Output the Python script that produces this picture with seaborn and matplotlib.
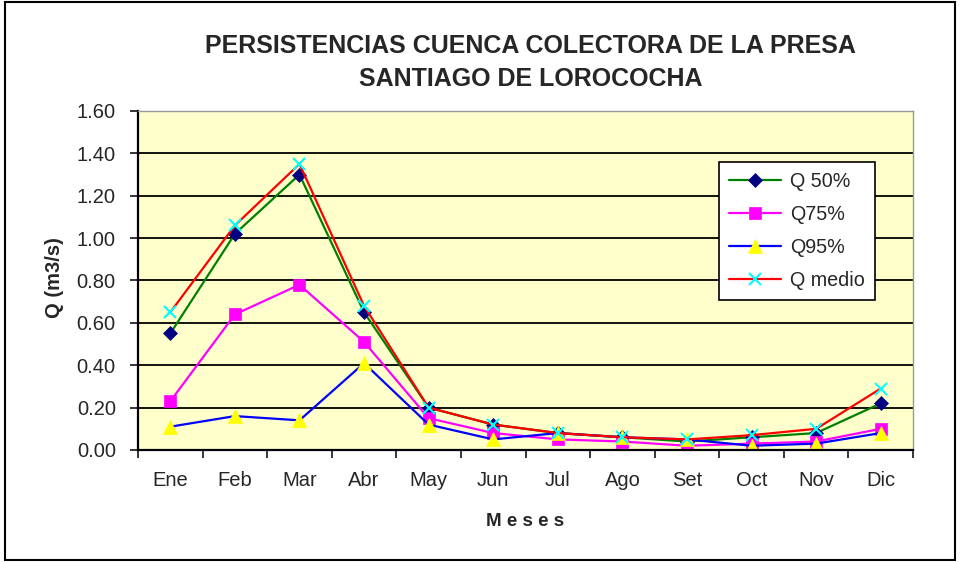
import numpy as np
import pandas as pd
import matplotlib
matplotlib.use("Agg")
import matplotlib.pyplot as plt
import matplotlib.patches as mpatches
from matplotlib.ticker import FixedLocator, FuncFormatter
import seaborn as sns

# datos
meses = ['Ene', 'Feb', 'Mar', 'Abr', 'May', 'Jun', 'Jul', 'Ago', 'Set', 'Oct', 'Nov', 'Dic']
q50 = [0.55, 1.02, 1.30, 0.65, 0.20, 0.12, 0.08, 0.06, 0.04, 0.06, 0.08, 0.22]
q75 = [0.23, 0.64, 0.78, 0.51, 0.15, 0.08, 0.05, 0.04, 0.02, 0.03, 0.04, 0.10]
q95 = [0.11, 0.16, 0.14, 0.41, 0.12, 0.05, 0.08, 0.06, 0.05, 0.02, 0.03, 0.08]
qmedio = [0.65, 1.06, 1.35, 0.68, 0.20, 0.12, 0.08, 0.06, 0.05, 0.07, 0.10, 0.29]
yticks = [0.0, 0.2, 0.4, 0.6, 0.8, 1.0, 1.2, 1.4, 1.6]

sns.set_style("white")
plt.rcParams['font.family'] = ['Liberation Sans', 'DejaVu Sans']

df = pd.DataFrame({'mes': np.arange(len(meses)), 'Q 50%': q50, 'Q75%': q75,
                   'Q95%': q95, 'Q medio': qmedio})

# (serie, color linea, marcador, color marcador, tamaño)
estilos = [('Q 50%', 'green', 'D', 'navy', 7),
           ('Q75%', 'magenta', 's', 'magenta', 8),
           ('Q95%', 'blue', '^', 'yellow', 10),
           ('Q medio', 'red', 'x', 'cyan', 8)]

fig = plt.figure(figsize=(9.61, 5.62), dpi=100)
ax = fig.add_axes([0.1436, 0.1993, 0.8065, 0.6032])
ax.set_facecolor('#FFFFCC')

for serie, c, m, mc, ms in estilos:
    sns.lineplot(data=df, x='mes', y=serie, ax=ax, color=c, lw=1.6, marker=m,
                 markersize=ms, markerfacecolor=mc, markeredgecolor=mc,
                 markeredgewidth=1.5 if m == 'x' else 0.5, label=serie)

ax.set_xlim(-0.5, 11.5)
ax.set_ylim(0, 1.6)
ax.set_yticks(yticks)
ax.yaxis.set_major_formatter(FuncFormatter(lambda v, p: f"{v:.2f}"))
ax.grid(axis='y', color='black', lw=1.3)
ax.set_axisbelow(True)

ax.set_xticks(np.arange(len(meses)))
ax.set_xticklabels(meses)
ax.xaxis.set_minor_locator(FixedLocator(np.arange(-0.5, 12, 1)))
ax.tick_params(axis='x', which='major', length=0, pad=15, labelsize=14.5)
ax.tick_params(axis='x', which='minor', length=6, width=1.3, direction='out', bottom=True)
ax.tick_params(axis='y', length=6, width=1.3, direction='out', left=True, labelsize=14.5, pad=10)

for s in ['left', 'bottom']:
    ax.spines[s].set_color('black')
    ax.spines[s].set_linewidth(1.6)
for s in ['top', 'right']:
    ax.spines[s].set_color('#999999')
    ax.spines[s].set_linewidth(1)

ax.set_xlabel('M e s e s', fontsize=13.5, fontweight='bold', labelpad=17)
ax.set_ylabel('Q (m3/s)', fontsize=14.5, fontweight='bold')
ax.yaxis.set_label_coords(-0.096, 0.51)

fig.text(0.552, 0.918, 'PERSISTENCIAS CUENCA COLECTORA DE LA PRESA',
         ha='center', va='center', fontsize=18, fontweight='bold')
fig.text(0.552, 0.86, 'SANTIAGO DE LOROCOCHA',
         ha='center', va='center', fontsize=18, fontweight='bold')

leg = ax.legend(loc='upper right', bbox_to_anchor=(0.951, 0.85), borderaxespad=0,
                fontsize=14.2, frameon=True, fancybox=False, edgecolor='black',
                framealpha=1, labelspacing=0.72, handlelength=2.6,
                handletextpad=0.5, borderpad=0.5)
leg.get_frame().set_linewidth(1.2)
leg.get_frame().set_facecolor('white')

fig.patches.append(mpatches.Rectangle((0.005, 0.004), 0.989, 0.992, transform=fig.transFigure,
                                      fill=False, edgecolor='black', lw=1.5))

fig.savefig('out.png', dpi=100)
